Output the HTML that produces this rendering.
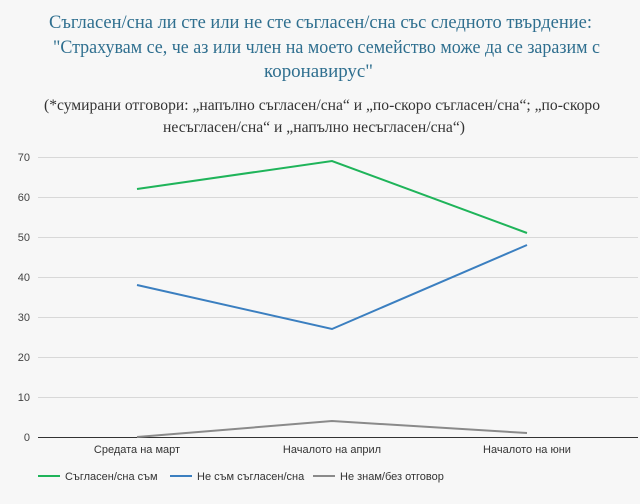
<!DOCTYPE html>
<html><head><meta charset="utf-8"><style>
html,body{margin:0;padding:0;background:#f7f7f7;}
svg{display:block}
</style></head><body>
<svg width="640" height="504" xmlns="http://www.w3.org/2000/svg">
<rect width="640" height="504" fill="#f7f7f7"/>
<g font-family="Liberation Serif, serif" text-anchor="start">
<text x="49" y="28" font-size="19" fill="#2f6f8f" textLength="543" lengthAdjust="spacingAndGlyphs">Съгласен/сна ли сте или не сте съгласен/сна със следното твърдение:</text>
<text x="53" y="53" font-size="19" fill="#2f6f8f" textLength="547" lengthAdjust="spacingAndGlyphs">"Страхувам се, че аз или член на моето семейство може да се заразим с</text>
<text x="264" y="77" font-size="19" fill="#2f6f8f" textLength="109" lengthAdjust="spacingAndGlyphs">коронавирус"</text>
<text x="44" y="110" font-size="16" fill="#333" textLength="556" lengthAdjust="spacingAndGlyphs">(*сумирани отговори: „напълно съгласен/сна“ и „по-скоро съгласен/сна“; „по-скоро</text>
<text x="163" y="132" font-size="16" fill="#333" textLength="302" lengthAdjust="spacingAndGlyphs">несъгласен/сна“ и „напълно несъгласен/сна“)</text>
</g>
<g stroke="#d8d8d8" stroke-width="1">
<line x1="38" y1="157.5" x2="638" y2="157.5"/>
<line x1="38" y1="197.5" x2="638" y2="197.5"/>
<line x1="38" y1="237.5" x2="638" y2="237.5"/>
<line x1="38" y1="277.5" x2="638" y2="277.5"/>
<line x1="38" y1="317.5" x2="638" y2="317.5"/>
<line x1="38" y1="357.5" x2="638" y2="357.5"/>
<line x1="38" y1="397.5" x2="638" y2="397.5"/>
</g>
<line x1="38" y1="437.5" x2="638" y2="437.5" stroke="#333" stroke-width="1"/>
<g font-family="Liberation Sans, sans-serif" font-size="11" fill="#444" text-anchor="end">
<text x="30" y="161">70</text><text x="30" y="201">60</text><text x="30" y="241">50</text>
<text x="30" y="281">40</text><text x="30" y="321">30</text><text x="30" y="361">20</text>
<text x="30" y="401">10</text><text x="30" y="441">0</text>
</g>
<g font-family="Liberation Sans, sans-serif" font-size="11" fill="#333" text-anchor="middle">
<text x="137" y="453">Средата на март</text>
<text x="332" y="453">Началото на април</text>
<text x="527" y="453">Началото на юни</text>
</g>
<g fill="none" stroke-width="2">
<polyline points="137,189 332,161 527,233" stroke="#1fb45a"/>
<polyline points="137,285 332,329 527,245" stroke="#3b7fc0"/>
<polyline points="137,437 332,421 527,433" stroke="#8a8a8a"/>
</g>
<g font-family="Liberation Sans, sans-serif" font-size="11" fill="#333">
<line x1="38" y1="476" x2="60" y2="476" stroke="#1fb45a" stroke-width="2"/>
<text x="65" y="480">Съгласен/сна съм</text>
<line x1="170" y1="476" x2="192" y2="476" stroke="#3b7fc0" stroke-width="2"/>
<text x="197" y="480">Не съм съгласен/сна</text>
<line x1="313" y1="476" x2="335" y2="476" stroke="#8a8a8a" stroke-width="2"/>
<text x="340" y="480">Не знам/без отговор</text>
</g>
</svg>
</body></html>
